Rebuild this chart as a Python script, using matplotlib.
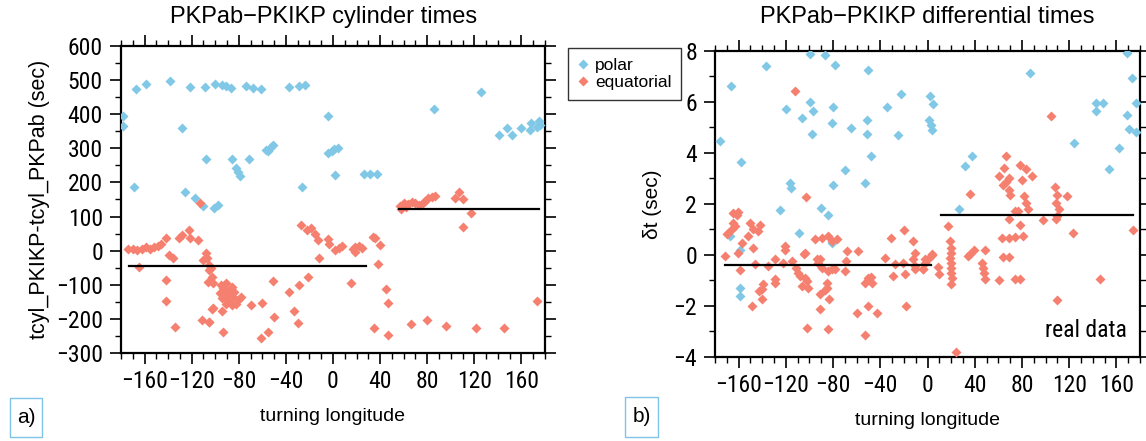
import matplotlib
matplotlib.use("Agg")
import matplotlib.pyplot as plt
from matplotlib import font_manager
from matplotlib.font_manager import FontProperties
from matplotlib.ticker import MultipleLocator
from matplotlib.lines import Line2D
from matplotlib.patches import Rectangle

_fonts = font_manager.fontManager.ttflist
_names = {f.name for f in _fonts}
REG = "Liberation Sans" if "Liberation Sans" in _names else "DejaVu Sans"
plt.rcParams["font.family"] = [REG, "DejaVu Sans"]


def _find_narrow():
    """Pick an upright, regular-weight condensed sans face if one is installed."""
    prefs = ["Liberation Sans Narrow", "Roboto Condensed", "Open Sans Condensed",
             "DejaVu Sans Condensed", "DejaVu Sans"]
    for name in prefs:
        for f in _fonts:
            if f.name != name or f.style != "normal":
                continue
            w = f.weight if isinstance(f.weight, int) else 400
            if w not in (400, "normal", "regular"):
                continue
            narrowish = ("Narrow" in f.name or "Condensed" in f.name
                         or "Condensed" in f.fname or "Narrow" in f.fname
                         or f.stretch in ("condensed", "semi-condensed", 87.5, 75))
            if narrowish and "Bold" not in f.fname and "Oblique" not in f.fname \
                    and "Italic" not in f.fname:
                return f.fname
    return None


_narrow_file = _find_narrow()


def tick_font(size):
    if _narrow_file:
        return FontProperties(fname=_narrow_file, size=size)
    return FontProperties(family=REG, size=size - 1.5)


BLUE = "#80c8e6"
RED = "#f5806f"

# ---- cylinder times: polar paths ----
cyl_polar_lon = [-178, -178, -167, -159, -138, -121, -109, -100, -94, -91, -87, -74, -68, -61,
                 -37, -29, -24, -4, -128, -169, -108, -86, -71, -82, -81, -79, -57, -55, -53,
                 -51, -126, -117, -110, -101, -98, -26, -4, -1, 1, 4, 2, 26, 31, 37, 86, 126,
                 141, 148, 152, 160, 167, 168, 173, 175, 176]
cyl_polar_dt = [395, 365, 474, 490, 497, 481, 479, 490, 486, 483, 477, 484, 476, 475,
                481, 483, 487, 395, 360, 188, 270, 269, 269, 242, 232, 220, 295, 293, 303,
                310, 173, 155, 132, 124, 134, 188, 285, 293, 298, 300, 222, 224, 224, 225, 414, 464,
                338, 360, 338, 360, 354, 375, 363, 381, 368]

# ---- cylinder times: equatorial paths ----
cyl_eq_lon = [-174, -170, -166, -162, -159, -155, -152, -149, -146, -142, -139, -136, -131, -128,
              -122, -121, -115, -165, -108, -110, -105, -104, -113, -142, -142, -134,
              -107, -105, -103, -106, -102,
              -95, -91, -86, -96, -92, -88, -84, -94, -89, -85, -91, -86, -81, -78, -89, -93, -87,
              -103, -94, -105, -82, -70, -60, -51, -50, -93, -61, -55, -37, -29, -21, -33, -30,
              -111, -105, -102,
              -27, -22, -19, -15, -13, -4, -3, 2, 8, -12, 15, 17, 19, 22, 19, 5,
              34, 36, 40, 25, 38, 45, 47, 35, 47, 66, 80, 96, 121, 145, 173,
              57, 58, 60, 62, 64, 67, 70, 73, 76, 78, 81, 84, 87, 104, 107, 110, 110, 117]
cyl_eq_dt = [5, 4, 3, 6, 10, 6, 11, 15, 19, 36, -13, -22, 36, 46,
             60, 36, 31, -47, -8, -27, -42, -52, 139, -86, -147, -223,
             -22, -57, -76, -91, -96,
             -101, -96, -106, -125, -120, -120, -120, -140, -145, -135, -155, -159, -145, -135, -130, -110, -110,
             -172, -176, -208, -157, -159, -154, -88, -194, -237, -255, -238, -120, -101, -76, -176, -213,
             -203, -209, -169,
             75, 60, 65, 49, 31, 33, 21, 2, 14, -21, -96, 5, 12, 14, -3, 8,
             39, 36, 17, 9, -39, -113, -153, -226, -247, -215, -203, -220, -226, -226, -147,
             130, 122, 139, 128, 136, 143, 139, 134, 139, 146, 153, 158, 161, 153, 172, 150, 70, 109]

# ---- differential times: polar paths ----
dif_polar_lon = [-176, -166.5, -158, -137, -120, -116.5, -116, -125, -109, -106.6, -99.6, -99.6,
                 -97.3, -98, -90.5, -84, -87, -78.4, -80.4, -81.2, -80, -80.6, -70, -65, -50,
                 -51.6, -51.6, -48, -53, -34.6, -22.5, -24.8, -167, -159, -159, -159,
                 2, 5, 1, 3, 4, 87, 27, 32, 37.4, 124, 142.6, 149, 142.6, 154, 162,
                 168.6, 173.6, 177, 168.6, 171, 176.6]
dif_polar_dt = [4.46, 6.62, 3.64, 7.40, 5.71, 2.82, 2.61, 1.74, 0.84, 5.36, 7.87, 5.98,
                5.62, 4.74, 1.84, 1.58, 7.83, 7.45, 5.79, 5.16, 2.75, 0.47, 3.34, 4.97, 7.24,
                5.27, 4.74, 3.86, 2.82, 5.79, 6.29, 4.69, 0.74, 0.19, -1.28, -1.61,
                6.23, 5.92, 5.27, 5.10, 4.90, 7.11, 1.80, 3.47, 3.89, 4.38, 5.97, 5.97, 5.62, 3.36, 4.17,
                7.92, 6.92, 5.97, 5.49, 4.94, 4.81]

# ---- differential times: equatorial paths ----
dif_eq_lon = [-164.5, -161.7, -160.2, -164.5, -163, -166, -168.7, -170, -150.4, -147.5, -142, -143.3,
              -152, -157.4, -160.2, -171.5, -147.5, -120.7, -120.7, -129, -135, -146, -158.8, -122,
              -115, -105, -104, -111, -109.4, -108, -104, -106.6, -101, -102.4, -129, -129, -139,
              -140.5, -143, -140.5, -149, -95.3, -89.7, -92.5, -89.7, -91, -91, -102.4, -112.3, -103,
              -84, -81.3, -77, -68.6, -58.7, -78.4, -70, -84, -85.5, -85.5, -83.5, -50, -53, -47.4,
              -60, -50, -43, -53, -84, -30.5, -19.7, -12, -36, -27.6, -29, -20.6, -19.2, -10.7, -12,
              -10.7, -10.7, -3.6, -2.2, 3.4, -18.6, -87, -94, -91, -81, -48, -69,
              105, 66.4, 64.7, 60.7, 69.2, 63.6, 66.4, 69.2, 69.8, 78, 83.3, 88.4, 80.4, 81.7, 83.3,
              85.3, 77, 74, 36, 69.2, 78.3, 62.8, 69.2, 74, 80.5, 63.6, 69.2, 60.5, 74, 78.3, 97.7,
              108, 109.8, 108.7, 111.6, 109.8, 118, 108.7, 123, 109.8, 146.5, 174.2, 17.4,
              19, 19.5, 20, 19, 20, 19.5, 20, 20.5, 20, 24.3, 36, 39.3, 34.5, 48.6, 46, 47, 47.5, 48.6,
              -2.2, 1.4, 3.5, 9.1, 9.9, -4]
dif_eq_dt = [1.65, 1.58, 1.67, 1.26, 1.13, 1.0, 0.87, 0.80, 1.26, 1.0, 1.19, 0.93,
             0.74, 0.48, 0.09, -0.05, 0.28, 0.35, 0.21, -0.18, -0.44, -0.37, -0.59, -0.31,
             -0.24, 0.02, 0.09, -0.50, -0.70, -0.83, -0.89, -1.22, -1.28, -1.02, -0.96, -1.09, -1.15,
             -1.35, -1.41, -1.74, -2.0, 0.61, 0.67, -0.31, -0.5, -1.54, -2.13, -2.85, 6.44, 2.27,
             0.74, 0.54, 0.61, 0.15, 0.15, -0.57, -0.63, -0.63, -1.09, -1.28, -1.74, -0.89, -1.09, -1.09,
             -2.26, -2.0, -2.29, -3.14, -2.91, 0.67, 0.99, 0.54, -0.11, -0.37, -0.83, -0.31, -0.76, 0.08, -0.18,
             -0.44, -0.57, -0.57, -0.18, 0.02, -2.0, -1.38, -0.18, -0.15, -0.54, -0.85, -0.24,
             5.45, 3.89, 3.40, 3.08, 3.01, 2.75, 2.84, 2.56, 2.36, 3.53, 3.36, 3.10, 2.92, 2.32, 2.04,
             1.81, 1.71, 1.71, 2.39, 1.41, 1.19, 0.67, 0.67, 0.71, 0.73, -0.09, -0.09, -0.98, -0.96, -0.96, 1.35,
             2.66, 2.36, 2.04, 1.78, 1.52, 2.32, 1.41, 0.86, -1.77, -0.96, 0.97, 1.15,
             0.54, 0.28, 0.08, -0.11, -0.31, -0.50, -0.70, -0.89, -1.15, -3.82, 0.02, 0.21, -0.05, 0.21, -0.31, -0.5, -0.7, -0.93,
             -0.31, -0.11, -0.02, -0.46, -0.76, -0.57]

# regional mean lines: (lon start, lon end, value)
cyl_means = [(-173, 28, -45), (56, 175, 121)]
dif_means = [(-171.5, 2.6, -0.38), (11.4, 174, 1.57)]

W, H = 1146, 441
fig = plt.figure(figsize=(W / 100, H / 100), dpi=100)
ax1 = fig.add_axes([121 / W, 1 - 353 / H, (545 - 121) / W, (353 - 46) / H])
ax2 = fig.add_axes([715 / W, 1 - 357 / H, (1140 - 715) / W, (357 - 50.7) / H])

MS = 5.4
TICKFP = tick_font(17)
for ax, plon, pdt, elon, edt, means in [
    (ax1, cyl_polar_lon, cyl_polar_dt, cyl_eq_lon, cyl_eq_dt, cyl_means),
    (ax2, dif_polar_lon, dif_polar_dt, dif_eq_lon, dif_eq_dt, dif_means),
]:
    ax.plot(plon, pdt, ls="none", marker="D", ms=MS, mfc=BLUE, mec="none", zorder=3)
    ax.plot(elon, edt, ls="none", marker="D", ms=MS, mfc=RED, mec="none", zorder=3)
    for x0, x1, v in means:
        ax.plot([x0, x1], [v, v], color="black", lw=1.6, zorder=4)
    ax.set_xlim(-180, 180)
    ax.set_xticks(range(-160, 161, 40))
    ax.xaxis.set_minor_locator(MultipleLocator(10))
    ax.tick_params(which="both", direction="out", top=True, right=True, labeltop=False, labelright=False)
    ax.tick_params(which="major", length=8, width=1.2)
    ax.tick_params(which="minor", length=4, width=1.0)
    ax.tick_params(axis="x", pad=4)
    ax.tick_params(axis="y", pad=5)
    for sp in ax.spines.values():
        sp.set_linewidth(1.6)
    ax.set_xlabel("turning longitude", fontsize=14, labelpad=11)

ax1.set_ylim(-300, 600)
ax1.set_yticks(range(-300, 601, 100))
ax1.yaxis.set_minor_locator(MultipleLocator(50))
ax1.set_ylabel("tcyl_PKIKP-tcyl_PKPab (sec)", fontsize=15.5, labelpad=4)

ax2.set_ylim(-4, 8)
ax2.set_yticks(range(-4, 9, 2))
ax2.yaxis.set_minor_locator(MultipleLocator(1))
ax2.set_ylabel("\u03b4t (sec)", fontsize=15, labelpad=8)

for ax in (ax1, ax2):
    for lab in ax.get_xticklabels() + ax.get_yticklabels():
        lab.set_fontproperties(TICKFP)

ax2.text(0.97, 0.085, "real data", transform=ax2.transAxes, ha="right", va="center",
         fontproperties=tick_font(17))

fig.text(324 / W, 1 - 17 / H, "PKPab\u2212PKIKP cylinder times", ha="center", va="center", fontsize=17)
fig.text(927 / W, 1 - 17 / H, "PKPab\u2212PKIKP differential times", ha="center", va="center", fontsize=17)

# panel tags
for (x0, x1, y0, y1, tag) in [(10, 42, 398, 437, "a)"), (625, 658, 397, 437, "b)")]:
    fig.patches.append(Rectangle((x0 / W, 1 - y1 / H), (x1 - x0) / W, (y1 - y0) / H,
                                 transform=fig.transFigure, fill=False, ec="#7fc3e6", lw=1.0))
    fig.text((x0 + x1) / 2 / W, 1 - (y0 + y1) / 2 / H, tag, ha="center", va="center", fontsize=15)

handles = [Line2D([], [], ls="none", marker="D", ms=5, mfc=BLUE, mec="none", label="polar"),
           Line2D([], [], ls="none", marker="D", ms=5, mfc=RED, mec="none", label="equatorial")]
leg = fig.legend(handles=handles, loc="upper left", bbox_to_anchor=(568 / W, 1 - 48 / H),
                 fontsize=12.5, frameon=True, fancybox=False, edgecolor="black",
                 handlelength=0.6, handletextpad=0.4, borderpad=0.55, labelspacing=0.15,
                 borderaxespad=0)
leg.get_frame().set_linewidth(1.0)

fig.savefig("out.png", dpi=100)
